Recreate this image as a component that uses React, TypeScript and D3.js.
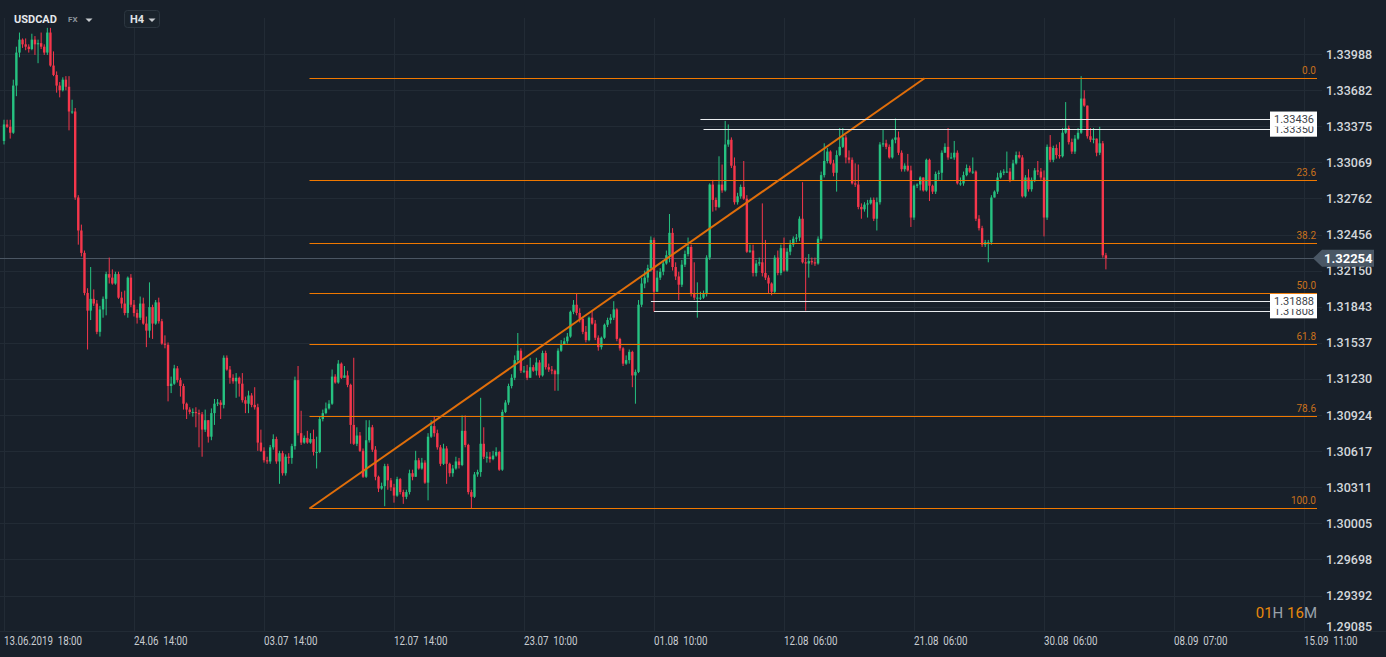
import React from 'react';
import * as d3 from 'd3';

// ---------- DATA (USDCAD, H4) ----------
const firstOpen = 1.3325;
// close of each H4 candle (open = previous close)
const closes = [
  1.3339,1.3337,1.3332,1.3372,1.3400,1.3411,1.3407,1.3405,1.3403,1.3411,
  1.3407,1.3408,1.3405,1.3400,1.3417,1.3389,1.3381,1.3372,1.3368,1.3377,
  1.3371,1.3350,1.3350,1.3277,1.3249,1.3230,1.3196,1.3181,1.3191,1.3187,
  1.3163,1.3182,1.3191,1.3212,1.3209,1.3204,1.3212,1.3192,1.3187,1.3179,
  1.3209,1.3186,1.3179,1.3175,1.3187,1.3170,1.3164,1.3184,1.3170,1.3188,
  1.3172,1.3153,1.3152,1.3117,1.3119,1.3132,1.3122,1.3117,1.3102,1.3097,
  1.3095,1.3095,1.3094,1.3093,1.3080,1.3088,1.3074,1.3094,1.3102,1.3103,
  1.3101,1.3141,1.3131,1.3124,1.3121,1.3124,1.3119,1.3105,1.3102,1.3109,
  1.3101,1.3099,1.3069,1.3062,1.3054,1.3053,1.3065,1.3072,1.3053,1.3060,
  1.3043,1.3057,1.3056,1.3066,1.3122,1.3077,1.3069,1.3073,1.3069,1.3072,
  1.3061,1.3061,1.3089,1.3094,1.3098,1.3102,1.3125,1.3120,1.3136,1.3124,
  1.3126,1.3118,1.3084,1.3068,1.3075,1.3062,1.3040,1.3071,1.3082,1.3063,
  1.3040,1.3030,1.3032,1.3049,1.3037,1.3031,1.3024,1.3038,1.3027,1.3023,
  1.3027,1.3043,1.3040,1.3054,1.3047,1.3052,1.3035,1.3074,1.3083,1.3077,
  1.3065,1.3051,1.3064,1.3051,1.3043,1.3047,1.3053,1.3050,1.3079,1.3067,
  1.3027,1.3023,1.3042,1.3044,1.3068,1.3057,1.3057,1.3055,1.3058,1.3061,
  1.3046,1.3095,1.3103,1.3117,1.3124,1.3139,1.3147,1.3130,1.3130,1.3124,
  1.3133,1.3130,1.3137,1.3126,1.3145,1.3133,1.3131,1.3130,1.3127,1.3147,
  1.3152,1.3155,1.3159,1.3180,1.3186,1.3179,1.3174,1.3163,1.3156,1.3175,
  1.3170,1.3158,1.3150,1.3158,1.3169,1.3173,1.3175,1.3182,1.3157,1.3149,
  1.3136,1.3139,1.3146,1.3126,1.3129,1.3186,1.3204,1.3209,1.3217,1.3241,
  1.3197,1.3209,1.3214,1.3221,1.3228,1.3247,1.3218,1.3210,1.3203,1.3220,
  1.3229,1.3235,1.3195,1.3192,1.3192,1.3192,1.3195,1.3226,1.3288,1.3275,
  1.3269,1.3288,1.3283,1.3322,1.3326,1.3304,1.3273,1.3278,1.3286,1.3276,
  1.3231,1.3232,1.3213,1.3221,1.3222,1.3213,1.3209,1.3204,1.3197,1.3226,
  1.3213,1.3234,1.3215,1.3231,1.3237,1.3242,1.3243,1.3259,1.3222,1.3221,
  1.3223,1.3222,1.3221,1.3242,1.3296,1.3308,1.3316,1.3306,1.3298,1.3313,
  1.3320,1.3328,1.3311,1.3309,1.3289,1.3288,1.3269,1.3267,1.3271,1.3272,
  1.3275,1.3259,1.3273,1.3322,1.3323,1.3320,1.3311,1.3326,1.3328,1.3315,
  1.3301,1.3304,1.3300,1.3260,1.3287,1.3288,1.3294,1.3283,1.3309,1.3287,
  1.3282,1.3297,1.3298,1.3315,1.3320,1.3311,1.3311,1.3315,1.3289,1.3289,
  1.3296,1.3302,1.3299,1.3299,1.3259,1.3251,1.3237,1.3239,1.3239,1.3277,
  1.3282,1.3294,1.3298,1.3299,1.3299,1.3292,1.3306,1.3313,1.3311,1.3278,
  1.3294,1.3284,1.3292,1.3300,1.3299,1.3294,1.3260,1.3320,1.3309,1.3319,
  1.3313,1.3312,1.3332,1.3336,1.3324,1.3316,1.3327,1.3332,1.3361,1.3355,
  1.3329,1.3326,1.3327,1.3315,1.3323,1.3228,1.32254,
];
const highs = [
  1.3343,1.3343,1.3343,1.3377,1.3405,1.3417,1.3412,1.3412,1.3407,1.3416,
  1.3414,1.3411,1.3417,1.3407,1.3421,1.3421,1.3401,1.3384,1.3375,1.3379,
  1.3380,1.3380,1.3360,1.3353,1.3279,1.3254,1.3232,1.3200,1.3218,1.3199,
  1.3190,1.3185,1.3193,1.3214,1.3226,1.3216,1.3214,1.3214,1.3197,1.3198,
  1.3210,1.3212,1.3190,1.3182,1.3193,1.3192,1.3176,1.3205,1.3186,1.3190,
  1.3192,1.3174,1.3160,1.3154,1.3125,1.3135,1.3134,1.3124,1.3119,1.3103,
  1.3099,1.3098,1.3099,1.3097,1.3095,1.3097,1.3084,1.3098,1.3106,1.3106,
  1.3105,1.3143,1.3143,1.3134,1.3127,1.3128,1.3125,1.3128,1.3108,1.3113,
  1.3111,1.3116,1.3102,1.3080,1.3065,1.3057,1.3067,1.3076,1.3074,1.3062,
  1.3062,1.3059,1.3060,1.3068,1.3125,1.3134,1.3096,1.3075,1.3079,1.3077,
  1.3080,1.3074,1.3091,1.3097,1.3103,1.3105,1.3131,1.3127,1.3139,1.3137,
  1.3134,1.3130,1.3119,1.3141,1.3082,1.3078,1.3064,1.3088,1.3088,1.3084,
  1.3066,1.3041,1.3035,1.3051,1.3051,1.3039,1.3034,1.3040,1.3039,1.3029,
  1.3029,1.3046,1.3046,1.3062,1.3056,1.3056,1.3054,1.3077,1.3088,1.3091,
  1.3080,1.3067,1.3068,1.3066,1.3052,1.3050,1.3057,1.3056,1.3092,1.3092,
  1.3068,1.3029,1.3044,1.3046,1.3107,1.3082,1.3061,1.3061,1.3062,1.3065,
  1.3062,1.3097,1.3105,1.3119,1.3127,1.3143,1.3162,1.3149,1.3134,1.3135,
  1.3141,1.3135,1.3141,1.3139,1.3147,1.3147,1.3136,1.3134,1.3131,1.3149,
  1.3156,1.3158,1.3162,1.3181,1.3190,1.3196,1.3183,1.3175,1.3168,1.3176,
  1.3181,1.3173,1.3160,1.3159,1.3170,1.3175,1.3178,1.3189,1.3183,1.3158,
  1.3150,1.3143,1.3148,1.3147,1.3131,1.3190,1.3209,1.3215,1.3220,1.3244,
  1.3243,1.3215,1.3217,1.3224,1.3232,1.3263,1.3251,1.3222,1.3214,1.3224,
  1.3232,1.3243,1.3237,1.3222,1.3205,1.3197,1.3198,1.3228,1.3289,1.3292,
  1.3277,1.3312,1.3305,1.3342,1.3339,1.3328,1.3311,1.3281,1.3288,1.3308,
  1.3279,1.3237,1.3237,1.3224,1.3226,1.3272,1.3241,1.3211,1.3205,1.3228,
  1.3232,1.3237,1.3243,1.3234,1.3241,1.3244,1.3246,1.3261,1.3290,1.3226,
  1.3229,1.3226,1.3226,1.3244,1.3299,1.3323,1.3319,1.3317,1.3309,1.3317,
  1.3336,1.3336,1.3330,1.3317,1.3311,1.3306,1.3305,1.3272,1.3273,1.3275,
  1.3277,1.3277,1.3277,1.3324,1.3335,1.3326,1.3322,1.3327,1.3344,1.3333,
  1.3317,1.3306,1.3314,1.3304,1.3288,1.3289,1.3295,1.3294,1.3310,1.3310,
  1.3288,1.3299,1.3300,1.3317,1.3323,1.3336,1.3315,1.3325,1.3317,1.3294,
  1.3299,1.3305,1.3304,1.3311,1.3300,1.3262,1.3253,1.3241,1.3241,1.3279,
  1.3283,1.3298,1.3300,1.3301,1.3316,1.3302,1.3309,1.3316,1.3316,1.3313,
  1.3296,1.3301,1.3294,1.3302,1.3308,1.3302,1.3300,1.3322,1.3330,1.3321,
  1.3322,1.3324,1.3336,1.3358,1.3338,1.3327,1.3330,1.3336,1.3380,1.3368,
  1.3355,1.3336,1.3336,1.3327,1.3337,1.3325,1.3230,
];
const lows = [
  1.3322,1.3336,1.3327,1.3331,1.3363,1.3396,1.3404,1.3402,1.3400,1.3402,
  1.3398,1.3391,1.3403,1.3398,1.3398,1.3388,1.3380,1.3366,1.3362,1.3367,
  1.3368,1.3334,1.3348,1.3275,1.3237,1.3227,1.3194,1.3148,1.3173,1.3185,
  1.3161,1.3159,1.3175,1.3177,1.3204,1.3203,1.3203,1.3191,1.3183,1.3177,
  1.3175,1.3184,1.3176,1.3170,1.3173,1.3169,1.3150,1.3158,1.3157,1.3169,
  1.3170,1.3152,1.3149,1.3104,1.3111,1.3118,1.3120,1.3108,1.3097,1.3089,
  1.3093,1.3091,1.3082,1.3065,1.3057,1.3078,1.3069,1.3071,1.3084,1.3100,
  1.3089,1.3098,1.3130,1.3119,1.3119,1.3107,1.3108,1.3103,1.3094,1.3094,
  1.3099,1.3097,1.3062,1.3061,1.3052,1.3051,1.3051,1.3063,1.3051,1.3034,
  1.3041,1.3041,1.3051,1.3051,1.3063,1.3075,1.3067,1.3068,1.3068,1.3068,
  1.3058,1.3047,1.3060,1.3087,1.3093,1.3097,1.3101,1.3119,1.3119,1.3123,
  1.3124,1.3116,1.3068,1.3067,1.3066,1.3061,1.3039,1.3039,1.3069,1.3061,
  1.3037,1.3027,1.3029,1.3015,1.3029,1.3028,1.3018,1.3023,1.3025,1.3017,
  1.3021,1.3025,1.3037,1.3040,1.3046,1.3046,1.3034,1.3020,1.3073,1.3074,
  1.3063,1.3049,1.3050,1.3034,1.3040,1.3040,1.3046,1.3047,1.3049,1.3065,
  1.3025,1.3013,1.3022,1.3040,1.3040,1.3055,1.3052,1.3052,1.3054,1.3057,
  1.3045,1.3045,1.3094,1.3101,1.3115,1.3122,1.3137,1.3128,1.3128,1.3122,
  1.3124,1.3129,1.3126,1.3124,1.3125,1.3131,1.3129,1.3127,1.3113,1.3113,
  1.3146,1.3152,1.3153,1.3158,1.3178,1.3177,1.3171,1.3161,1.3154,1.3155,
  1.3169,1.3156,1.3147,1.3148,1.3157,1.3167,1.3170,1.3173,1.3155,1.3147,
  1.3134,1.3135,1.3136,1.3116,1.3102,1.3128,1.3184,1.3200,1.3205,1.3214,
  1.3180,1.3197,1.3207,1.3211,1.3220,1.3222,1.3215,1.3207,1.3190,1.3201,
  1.3218,1.3227,1.3193,1.3190,1.3175,1.3190,1.3191,1.3193,1.3224,1.3265,
  1.3266,1.3268,1.3281,1.3282,1.3320,1.3302,1.3271,1.3271,1.3276,1.3275,
  1.3230,1.3230,1.3210,1.3210,1.3219,1.3210,1.3207,1.3196,1.3194,1.3196,
  1.3211,1.3211,1.3214,1.3214,1.3228,1.3235,1.3239,1.3240,1.3221,1.3181,
  1.3209,1.3220,1.3219,1.3220,1.3240,1.3294,1.3306,1.3305,1.3295,1.3282,
  1.3312,1.3319,1.3306,1.3306,1.3288,1.3286,1.3267,1.3259,1.3265,1.3260,
  1.3271,1.3257,1.3249,1.3271,1.3320,1.3318,1.3310,1.3310,1.3323,1.3313,
  1.3299,1.3299,1.3299,1.3252,1.3258,1.3285,1.3283,1.3282,1.3282,1.3274,
  1.3280,1.3280,1.3292,1.3291,1.3315,1.3309,1.3310,1.3309,1.3288,1.3287,
  1.3287,1.3295,1.3298,1.3297,1.3257,1.3249,1.3235,1.3235,1.3222,1.3237,
  1.3277,1.3280,1.3293,1.3296,1.3298,1.3290,1.3291,1.3305,1.3310,1.3277,
  1.3277,1.3282,1.3282,1.3290,1.3296,1.3292,1.3244,1.3258,1.3307,1.3307,
  1.3310,1.3310,1.3311,1.3331,1.3322,1.3314,1.3314,1.3326,1.3331,1.3354,
  1.3327,1.3324,1.3323,1.3312,1.3313,1.3226,1.3216,
];

const priceTicks = [
  1.33988, 1.33682, 1.33375, 1.33069, 1.32762, 1.32456, 1.32150, 1.31843, 1.31537,
  1.31230, 1.30924, 1.30617, 1.30311, 1.30005, 1.29698, 1.29392, 1.29085,
];
const timeLabels = [
  ['13.06.2019', '18:00'], ['24.06', '14:00'], ['03.07', '14:00'], ['12.07', '14:00'],
  ['23.07', '10:00'], ['01.08', '10:00'], ['12.08', '06:00'], ['21.08', '06:00'],
  ['30.08', '06:00'], ['08.09', '07:00'], ['15.09', '11:00'],
];
const CANDLES_PER_LABEL = 42;

const fibLevels = [0, 23.6, 38.2, 50, 61.8, 78.6, 100];
const fibHigh = 1.33782;
const fibLow = 1.30131;
const fibStartIndex = 98.7;
const fibEndIndex = 297.4;

// horizontal levels, drawn lower-label first so the upper label sits on top
const levelPrices = [1.3335, 1.33436, 1.31808, 1.31888];
const levelStartIndex = [226, 225, 210, 209];
const lastPrice = 1.32254;

// ---------- COMPONENT ----------
const W = 1386, H = 657;
const PLOT_R = 1317, PLOT_T = 18, PLOT_B = 632;
const BG = '#18202a';
const GRID = '#222b35';
const UP = '#26c281';
const DOWN = '#f5364b';
const FIB = '#f07800';
const FONT = 'Roboto, "Noto Sans", sans-serif';

export default function App() {
  const x = d3.scaleLinear().domain([0, 420]).range([4, 1304]);
  const y = d3.scaleLinear().domain([1.29085, 1.33988]).range([631.7, 54]);

  const candles = closes.map((c, i) => {
    const o = i === 0 ? firstOpen : closes[i - 1];
    return { i, o, c, h: Math.max(highs[i], o, c), l: Math.min(lows[i], o, c) };
  });

  const fibRange = fibHigh - fibLow;
  const diag = d3.line<[number, number]>()
    .x((d) => x(d[0]))
    .y((d) => y(d[1]));

  return (
    <div style={{ position: 'absolute', left: 0, top: 0, width: W, height: H, background: BG }}>
      <svg width={W} height={H} style={{ display: 'block', fontFamily: FONT }}>
        <rect x={0} y={0} width={W} height={H} fill={BG} />
        <defs>
          <clipPath id="plot">
            <rect x={0} y={PLOT_T} width={PLOT_R} height={PLOT_B - PLOT_T} />
          </clipPath>
        </defs>

        {/* grid */}
        {timeLabels.map((_, k) => (
          <line key={'vg' + k} x1={Math.round(x(k * CANDLES_PER_LABEL)) + 0.5} x2={Math.round(x(k * CANDLES_PER_LABEL)) + 0.5}
            y1={PLOT_T} y2={PLOT_B} stroke={GRID} strokeWidth={1} />
        ))}
        {priceTicks.slice(0, -1).map((p) => (
          <line key={'hg' + p} x1={0} x2={1322} y1={Math.round(y(p)) + 0.5} y2={Math.round(y(p)) + 0.5}
            stroke={GRID} strokeWidth={1} />
        ))}
        <line x1={0} x2={W} y1={PLOT_B - 0.5} y2={PLOT_B - 0.5} stroke={GRID} strokeWidth={1} />

        {/* last price line */}
        <line x1={0} x2={1314} y1={Math.round(y(lastPrice)) + 0.5} y2={Math.round(y(lastPrice)) + 0.5}
          stroke="#4b5663" strokeWidth={1} />

        {/* candles */}
        <g clipPath="url(#plot)">
          {candles.map((d) => {
            const cx = x(d.i);
            const col = d.c >= d.o ? UP : DOWN;
            const top = y(Math.max(d.o, d.c));
            const bot = y(Math.min(d.o, d.c));
            return (
              <g key={d.i}>
                <line x1={cx} x2={cx} y1={y(d.h)} y2={y(d.l)} stroke={col} strokeWidth={1} />
                <rect x={cx - 1.2} y={top} width={2.4} height={Math.max(1, bot - top)} fill={col} />
              </g>
            );
          })}
        </g>

        {/* fibonacci */}
        {fibLevels.map((lv) => {
          const p = fibHigh - (lv / 100) * fibRange;
          const yy = Math.round(y(p)) + 0.5;
          return (
            <g key={'fib' + lv}>
              <line x1={x(fibStartIndex)} x2={PLOT_R} y1={yy} y2={yy} stroke={FIB} strokeWidth={1} />
              <text x={1316} y={yy - 5} textAnchor="end" fontSize={10} fill="#c8701c">{lv.toFixed(1)}</text>
            </g>
          );
        })}
        <path d={diag([[fibStartIndex, fibLow], [fibEndIndex, fibHigh]]) || ''} stroke="#e06e0a" strokeWidth={2} fill="none" />

        {/* horizontal levels */}
        {levelPrices.map((p, k) => (
          <line key={'lv' + k} x1={x(levelStartIndex[k])} x2={1270} y1={Math.round(y(p)) + 0.5} y2={Math.round(y(p)) + 0.5}
            stroke="#e9ecef" strokeWidth={1} />
        ))}
        {levelPrices.map((p, k) => {
          const yy = y(p);
          return (
            <g key={'lb' + k}>
              <rect x={1270} y={yy - 7.5} width={47} height={15} fill="#ffffff" />
              <text x={1274} y={yy + 4} fontSize={11} fill="#3c4248">{p.toFixed(5)}</text>
            </g>
          );
        })}

        {/* price axis */}
        {priceTicks.map((p, k) => (
          <text key={'pt' + p} x={1326} y={k === priceTicks.length - 1 ? y(p) - 1 : y(p) + 4.5}
            fontSize={12.5} fontWeight={500} fill="#d3d7db">{p.toFixed(5)}</text>
        ))}
        <path d={`M1313,${y(lastPrice)} L1322,${y(lastPrice) - 8.5} L1374,${y(lastPrice) - 8.5} L1374,${y(lastPrice) + 8.5} L1322,${y(lastPrice) + 8.5} Z`}
          fill="#4a5765" />
        <text x={1324} y={y(lastPrice) + 4.5} fontSize={13} fontWeight={700} fill="#ffffff">{lastPrice.toFixed(5)}</text>

        {/* time axis */}
        {timeLabels.map((t, k) => (
          <text key={'tl' + k} transform={`translate(${Math.round(x(k * CANDLES_PER_LABEL))},645) scale(0.78,1)`}
            fontSize={12.5} fill="#c9cdd2" style={{ whiteSpace: 'pre' }}>{t[0] + '  ' + t[1]}</text>
        ))}

        {/* header */}
        <text x={14} y={23} fontSize={11} fontWeight={700} fill="#e4e7ea">USDCAD</text>
        <text x={68} y={22} fontSize={8} fontWeight={700} fill="#8b939b">FX</text>
        <path d="M85.5,18.5 L92.5,18.5 L89,22 Z" fill="#c8ccd0" />
        <rect x={124.5} y={10.5} width={35} height={17} rx={3} fill="#1a232c" stroke="#2c3640" />
        <text x={130} y={23} fontSize={11} fontWeight={700} fill="#e0e3e6">H4</text>
        <path d="M148.5,18.5 L155.5,18.5 L152,22 Z" fill="#c8ccd0" />

        {/* countdown */}
        <text x={1317} y={618} textAnchor="end" fontSize={15}>
          <tspan fill="#e8890c">01</tspan><tspan fill="#9aa2aa">H </tspan>
          <tspan fill="#e8890c">16</tspan><tspan fill="#9aa2aa">M</tspan>
        </text>
      </svg>
    </div>
  );
}
